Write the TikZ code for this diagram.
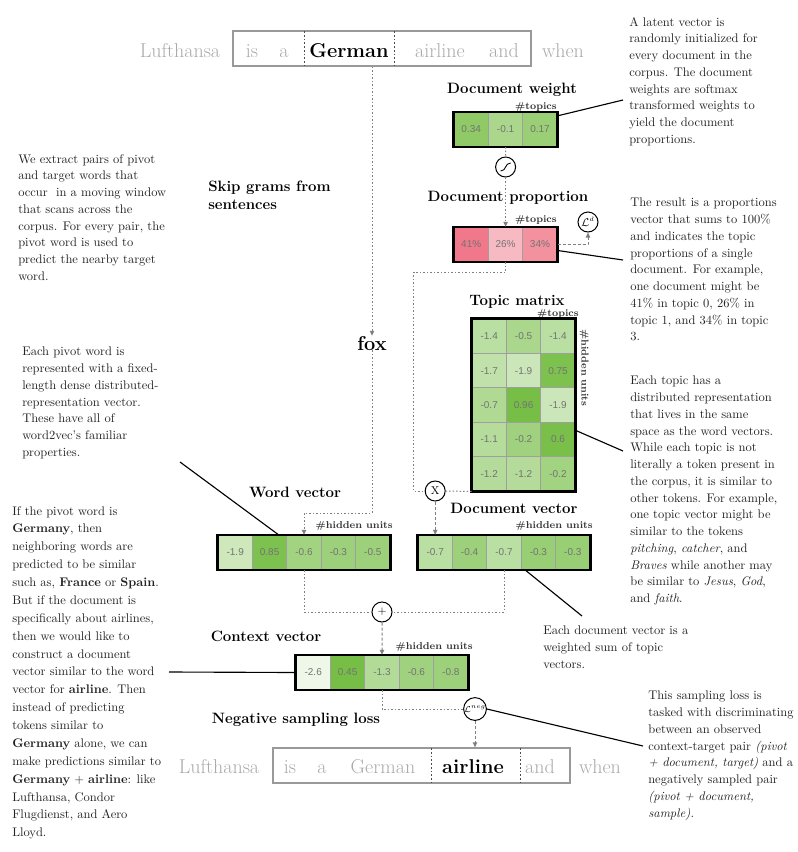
\documentclass[tikz,border=0pt]{standalone}
\usepackage{fontspec}
\newfontfamily\cellfont{Liberation Sans}
\usetikzlibrary{arrows.meta,calc}
\definecolor{vg}{RGB}{118,190,70}
\definecolor{pk1}{RGB}{240,120,138}
\definecolor{pk2}{RGB}{248,186,194}
\definecolor{pk3}{RGB}{243,146,158}
\definecolor{wordgray}{RGB}{170,170,170}
\definecolor{txt}{RGB}{35,35,35}
\begin{document}
\begin{tikzpicture}[x=0.8pt,y=-0.8pt,
 cell/.style={draw=gray!75,line width=0.8pt,minimum width=27.5pt,minimum height=27.5pt,inner sep=0pt,font=\cellfont\footnotesize,text=black!55},
 outer/.style={draw=black,line width=2pt},
 title/.style={font=\large\bfseries,anchor=base,inner sep=0pt},
 dimlab/.style={font=\footnotesize\bfseries,anchor=base east,inner sep=0pt,text=black!80},
 para/.style={align=left,anchor=north west,inner sep=0pt,text=txt,font=\fontsize{10}{13.4}\selectfont},
 sword/.style={font=\fontsize{16}{19}\selectfont,text=wordgray,anchor=base,inner sep=0pt},
 kword/.style={font=\fontsize{16}{19}\selectfont\bfseries,text=black,anchor=base,inner sep=0pt},
 op/.style={circle,draw=black,line width=0.8pt,fill=white,minimum size=16pt,inner sep=0pt},
 flow/.style={draw=gray,line width=0.8pt,dash pattern=on 1.2pt off 1.6pt},
 flowarr/.style={flow,-{Triangle[length=4pt,width=3.5pt]}},
 dflowarr/.style={draw=gray,line width=0.8pt,dash pattern=on 2.4pt off 1.6pt,-{Triangle[length=4pt,width=3.5pt]}},
 leader/.style={draw=black,line width=0.9pt},
 sep/.style={draw=black!70,line width=0.7pt,dash pattern=on 1.5pt off 1.5pt},
 sbox/.style={draw=gray!80,line width=1pt,inner sep=0pt}
]
\useasboundingbox[fill=white] (0,0) rectangle (798,852);

% ---------- top sentence ----------
\node[sbox,minimum width=238.4pt,minimum height=28pt] (topbox) at (382,48.5) {};
\draw[sep] (304,31) -- (304,66);
\draw[sep] (394,31) -- (394,66);
\node[sword] (tw0) at (180,57) {Lufthansa};
\node[sword] (tw1) at (252,57) {is};
\node[sword] (tw2) at (284,57) {a};
\node[kword] (tw3) at (349,57) {German};
\node[sword] (tw4) at (440,57) {airline};
\node[sword] (tw5) at (504,57) {and};
\node[sword] (tw6) at (563,57) {when};

% ---------- skip grams ----------
\node[align=left,anchor=north west,inner sep=0pt,font=\large\bfseries] (skip) at (208,181) {Skip grams from\\sentences};
\node[kword] (fox) at (372,350) {fox};

% ---------- document weight ----------
\node[title] (tdw) at (512,93) {Document weight};
\node[dimlab] (dwl) at (557,109) {\#topics};
\foreach \v/\p [count=\i] in {0.34/82,-0.1/62,0.17/74}
  \node[cell,fill=vg!\p!white] (dw\i) at (471.2+34.4*\i-34.4,129.5) {\v};
\draw[outer] (dw1.north west) rectangle (dw3.south east);

\node[op] (sig) at (505.6,167) {};
\draw[line width=0.7pt] ($(sig)+(-5,4)$) .. controls ($(sig)+(1,4)$) and ($(sig)+(-1,-4)$) .. ($(sig)+(5,-4)$);

% ---------- document proportion ----------
\node[title] (tdp) at (508,201) {Document proportion};
\node[dimlab] (dpl) at (557,222) {\#topics};
\node[cell,fill=pk1] (dp1) at (471.2,244.5) {41\%};
\node[cell,fill=pk2] (dp2) at (505.6,244.5) {26\%};
\node[cell,fill=pk3] (dp3) at (540,244.5) {34\%};
\draw[outer] (dp1.north west) rectangle (dp3.south east);
\node[op,font=\small] (Ld) at (588,222) {$\mathcal{L}^{\scriptscriptstyle d}$};

\draw[flow] (dw2.south) -- (sig.north);
\draw[flowarr] (sig.south) -- (dp2.north);
\draw[dflowarr] (dp3.east) -| (Ld.south);

% ---------- topic matrix ----------
\node[title] (ttm) at (517,305) {Topic matrix};
\node[dimlab] (tml) at (579,316) {\#topics};
\node[font=\footnotesize\bfseries,rotate=-90,text=black!80,inner sep=0pt] (tmh) at (584,368) {\#hidden units};
\foreach \row [count=\r] in {{-1.4/50,-0.5/62,-1.4/50},{-1.7/46,-1.9/38,0.75/95},{-0.7/58,0.96/100,-1.9/38},{-1.1/54,-0.2/70,0.6/98},{-1.2/55,-1.2/55,-0.2/68}}
  \foreach \v/\p [count=\c] in \row
    \node[cell,fill=vg!\p!white] (tm\r\c) at (489.2+34.4*\c-34.4,336.2+34.4*\r-34.4) {\v};
\draw[outer] (tm11.north west) rectangle (tm53.south east);

\node[op,font=\small] (X) at (435.2,491) {X};
\draw[flow] (dp2.south) -- ++(0,10) -| ($(X.west)+(-11,0)$) -- (X.west);
\draw[flow] (X.east) -- (tm51.south west);

% ---------- word vector ----------
\node[title] (twv) at (295,497) {Word vector};
\node[dimlab] (wvl) at (393,528) {\#hidden units};
\foreach \v/\p [count=\i] in {-1.9/36,0.85/95,-0.6/68,-0.3/72,-0.5/72}
  \node[cell,fill=vg!\p!white] (wv\i) at (235.2+34.4*\i-34.4,552.5) {\v};
\draw[outer] (wv1.north west) rectangle (wv5.south east);

% ---------- document vector ----------
\node[title] (tdv) at (514,513) {Document vector};
\node[dimlab] (dvl) at (593,528) {\#hidden units};
\foreach \v/\p [count=\i] in {-0.7/50,-0.4/72,-0.7/50,-0.3/75,-0.3/75}
  \node[cell,fill=vg!\p!white] (dv\i) at (435.2+34.4*\i-34.4,552.5) {\v};
\draw[outer] (dv1.north west) rectangle (dv5.south east);

\draw[flowarr] (topbox.south -| fox) -- (fox.north);
\draw[flowarr] (fox.south) -- (fox.south |- 0,513) -| (wv3.north);
\draw[dflowarr] (X.south) -- (dv1.north);

% ---------- context vector ----------
\node[op,font=\small] (plus) at (382,612) {$+$};
\draw[flow] (wv3.south) |- (plus.west);
\draw[flow] (dv3.south) |- (plus.east);

\node[title] (tcv) at (266,641) {Context vector};
\node[dimlab] (cvl) at (473,649) {\#hidden units};
\foreach \v/\p [count=\i] in {-2.6/12,0.45/100,-1.3/56,-0.6/70,-0.8/72}
  \node[cell,fill=vg!\p!white] (cv\i) at (313.2+34.4*\i-34.4,672.5) {\v};
\draw[outer] (cv1.north west) rectangle (cv5.south east);
\draw[dflowarr] (plus.south) -- (cv3.north);

% ---------- negative sampling ----------
\node[title] (tns) at (296,723) {Negative sampling loss};
\node[op,font=\scriptsize] (Lneg) at (475,709) {$\mathcal{L}^{\scriptscriptstyle neg}$};
\draw[flow] (cv3.south) |- (Lneg.west);

\node[sbox,minimum width=237.6pt,minimum height=28pt] (botbox) at (421.5,765.5) {};
\draw[sep] (431,748) -- (431,783);
\draw[sep] (520,748) -- (520,783);
\node[sword] (bw0) at (219,773) {Lufthansa};
\node[sword] (bw1) at (290,773) {is};
\node[sword] (bw2) at (322,773) {a};
\node[sword] (bw3) at (383,773) {German};
\node[kword] (bw4) at (473,773) {airline};
\node[sword] (bw5) at (540,773) {and};
\node[sword] (bw6) at (600,773) {when};
\draw[dflowarr] (Lneg.south) -- (Lneg.south |- botbox.north);

% ---------- annotations ----------
\node[para] (pA) at (629,17) {A latent vector is\\randomly initialized for\\every document in the\\corpus. The document\\weights are softmax\\transformed weights to\\yield the document\\proportions.};
\node[para] (pB) at (630,198) {The result is a proportions\\vector that sums to 100\%\\and indicates the topic\\proportions of a single\\document. For example,\\one document might be\\41\% in topic 0, 26\% in\\topic 1, and 34\% in topic\\3.};
\node[para] (pC) at (630,376) {Each topic has a\\distributed representation\\that lives in the same\\space as the word vectors.\\While each topic is not\\literally a token present in\\the corpus, it is similar to\\other tokens. For example,\\one topic vector might be\\similar to the tokens\\\textit{pitching}, \textit{catcher}, and\\\textit{Braves} while another may\\be similar to \textit{Jesus}, \textit{God},\\and \textit{faith}.};
\node[para] (pD) at (543,626) {Each document vector is a\\weighted sum of topic\\vectors.};
\node[para] (pE) at (648,691) {This sampling loss is\\tasked with discriminating\\between an observed\\context-target pair \textit{(pivot}\\\textit{+ document, target)} and a\\negatively sampled pair\\\textit{(pivot + document,}\\\textit{sample).}};
\node[para] (pF) at (18,154) {We extract pairs of pivot\\and target words that\\occur\ \ in a moving window\\that scans across the\\corpus. For every pair, the\\pivot word is used to\\predict the nearby target\\word.};
\node[para] (pG) at (22,347) {Each pivot word is\\represented with a fixed-\\length dense distributed-\\representation vector.\\These have all of\\word2vec's familiar\\properties.};
\node[para,font=\fontsize{10}{14.3}\selectfont] (pH) at (12,506) {If the pivot word is\\\textbf{Germany}, then\\neighboring words are\\predicted to be similar\\such as, \textbf{France} or \textbf{Spain}.\\But if the document is\\specifically about airlines,\\then we would like to\\construct a document\\vector similar to the word\\vector for \textbf{airline}. Then\\instead of predicting\\tokens similar to\\\textbf{Germany} alone, we can\\make predictions similar to\\\textbf{Germany} $+$ \textbf{airline}: like\\Lufthansa, Condor\\Flugdienst, and Aero\\Lloyd.};

% ---------- leader lines ----------
\coordinate (eA) at (623,100);
\coordinate (eB) at (623,260);
\coordinate (eC) at (623,451);
\coordinate (eD) at (582,616);
\coordinate (eE) at (643,746);
\coordinate (eG) at (180,462);
\coordinate (eH) at (169,672);
\draw[leader] ($(dw3.north east)+(0,4)$) -- (eA);
\draw[leader] ($(dp3.east)+(0,6)$) -- (eB);
\draw[leader] ($(tm43.east)+(0,-9)$) -- (eC);
\draw[leader] ($(dv4.south)+(-13,0)$) -- (eD);
\draw[leader] (Lneg.east) -- (eE);
\draw[leader] (eG) -- ($(wv2.north)+(9,0)$);
\draw[leader] (cv1.west) -- (eH);
\end{tikzpicture}
\end{document}
